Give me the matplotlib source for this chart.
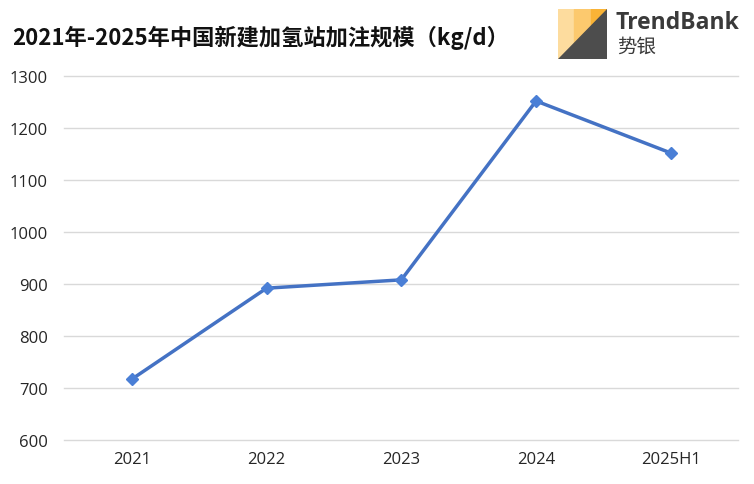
import matplotlib.pyplot as plt
from matplotlib.patches import Polygon, Rectangle

plt.rcParams['font.family'] = ['Noto Sans CJK SC', 'DejaVu Sans']

# data
years = ['2021', '2022', '2023', '2024', '2025H1']
scale = [717, 892, 908, 1252, 1152]
y_ticks = [600, 700, 800, 900, 1000, 1100, 1200, 1300]

fig = plt.figure(figsize=(7.54, 4.85), dpi=100)
ax = fig.add_axes([0.0855, 0.0907, 0.8935, 0.7505])

ax.plot(range(len(years)), scale, color='#4472C4', linewidth=2.5,
        marker='D', markersize=6, markerfacecolor='#4A7FD6', markeredgecolor='#4A7FD6')

ax.set_xlim(-0.5, len(years) - 0.5)
ax.set_ylim(600, 1300)
ax.set_yticks(y_ticks)
ax.set_xticks(range(len(years)))
ax.set_xticklabels(years)
ax.grid(axis='y', color='#D9D9D9', linewidth=1)
for gl in ax.get_ygridlines():
    gl.set_clip_on(False)
ax.set_axisbelow(True)
for s in ax.spines.values():
    s.set_visible(False)
ax.tick_params(length=0, labelsize=12, colors='#262626', pad=8)
ax.tick_params(axis='y', pad=12)
for lab in ax.get_xticklabels() + ax.get_yticklabels():
    lab.set_family(['Open Sans', 'DejaVu Sans'])

fig.text(0.016, 0.922, '2021年-2025年中国新建加氢站加注规模（kg/d）',
         fontsize=16, fontweight='bold', color='#111111', va='center')

# logo box
lx0, ly0, lw, lh = 558 / 754, 1 - 60 / 485, 49 / 754, 50 / 485
logo = fig.add_axes([lx0, ly0, lw, lh])
logo.set_xlim(0, 1)
logo.set_ylim(0, 1)
logo.axis('off')
for i, c in enumerate(['#FDDC9E', '#FCC96E', '#F9B336']):
    logo.add_patch(Rectangle((i / 3, 0), 1 / 3, 1, color=c))
logo.add_patch(Polygon([[0, 0], [1, 0], [1, 1]], color='#4D4D4D'))

fig.text(616 / 754, 1 - 23 / 485, 'TrendBank', fontsize=16.5, fontweight='bold',
         color='#3A3A3A', va='center', family=['Open Sans', 'DejaVu Sans'])
fig.text(617 / 754, 1 - 47 / 485, '势银', fontsize=14, color='#3A3A3A', va='center')

fig.savefig('out.png', dpi=100)
